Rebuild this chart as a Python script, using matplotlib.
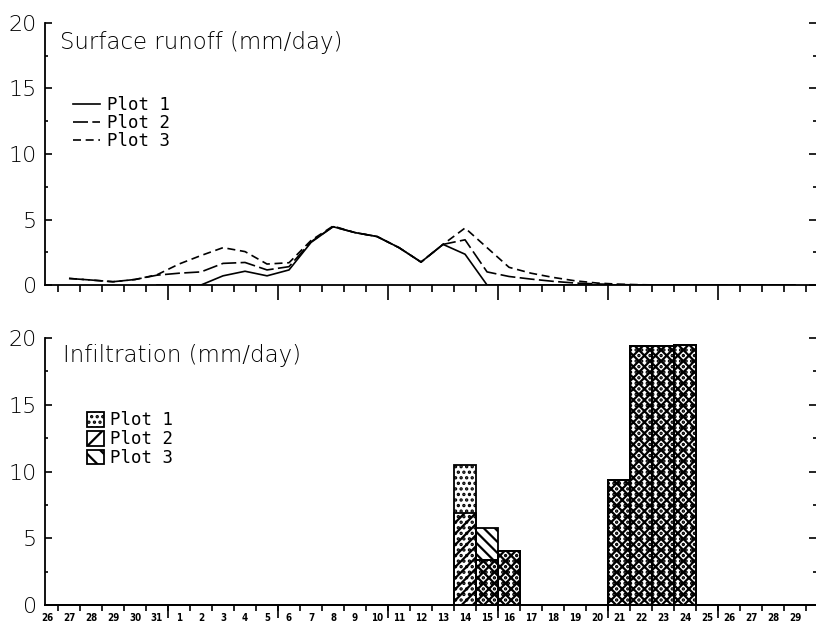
import numpy as np
import matplotlib
matplotlib.use("Agg")
import matplotlib.pyplot as plt
from matplotlib.patches import Patch

# ---------------- data ----------------
day_labels = ["26", "27", "28", "29", "30", "31",
              "1", "2", "3", "4", "5", "6", "7", "8", "9", "10",
              "11", "12", "13", "14", "15", "16", "17", "18", "19", "20",
              "21", "22", "23", "24", "25", "26", "27", "28", "29"]

nan = np.nan
runoff_plot1 = [nan, nan, nan, nan, nan, 0.0,
                0.0, 0.0, 0.7, 1.05, 0.7, 1.15, 3.25, 4.45, 4.0, 3.7,
                2.85, 1.75, 3.1, 2.35, 0.0, 0.0, 0.0, 0.0, 0.0, 0.0,
                0.0, 0.0, 0.0, 0.0, 0.0, 0.0, 0.0, 0.0, 0.0]
runoff_plot2 = [nan, 0.5, 0.38, 0.25, 0.42, 0.75,
                0.9, 1.0, 1.65, 1.72, 1.15, 1.4, 3.3, 4.45, 4.0, 3.7,
                2.85, 1.75, 3.1, 3.45, 1.0, 0.65, 0.45, 0.28, 0.15, 0.08,
                0.03, 0.0, 0.0, 0.0, 0.0, 0.0, 0.0, 0.0, 0.0]
runoff_plot3 = [nan, 0.5, 0.38, 0.25, 0.42, 0.78,
                1.6, 2.25, 2.85, 2.55, 1.6, 1.7, 3.4, 4.5, 4.0, 3.7,
                2.85, 1.75, 3.1, 4.35, 2.85, 1.35, 0.9, 0.58, 0.32, 0.15,
                0.06, 0.02, 0.0, 0.0, 0.0, 0.0, 0.0, 0.0, 0.0]

infil_plot1 = [0, 0, 0, 0, 0, 0,
               0, 0, 0, 0, 0, 0, 0, 0, 0, 0,
               0, 0, 0, 10.5, 3.4, 4.05, 0, 0, 0, 0,
               9.4, 19.4, 19.4, 19.45, 0, 0, 0, 0, 0]
infil_plot2 = [0, 0, 0, 0, 0, 0,
               0, 0, 0, 0, 0, 0, 0, 0, 0, 0,
               0, 0, 0, 6.9, 3.4, 4.05, 0, 0, 0, 0,
               9.4, 19.4, 19.4, 19.45, 0, 0, 0, 0, 0]
infil_plot3 = [0, 0, 0, 0, 0, 0,
               0, 0, 0, 0, 0, 0, 0, 0, 0, 0,
               0, 0, 0, 0, 5.8, 4.05, 0, 0, 0, 0,
               9.4, 19.4, 19.4, 19.45, 0, 0, 0, 0, 0]

series_labels = ["Plot 1", "Plot 2", "Plot 3"]
y_major = [0, 5, 10, 15, 20]
y_minor = [2.5, 7.5, 12.5, 17.5]
long_ticks = [6, 11, 16, 21, 26, 31]

# ---------------- style ----------------
plt.rcParams["font.family"] = ["DejaVu Sans"]
plt.rcParams["hatch.linewidth"] = 1.6
plt.rcParams["hatch.color"] = "black"

W, H = 816, 629
fig = plt.figure(figsize=(W / 100, H / 100), dpi=100)
ax1 = fig.add_axes([45 / W, 344 / H, 771 / W, 262 / H])
ax2 = fig.add_axes([45 / W, 24 / H, 771 / W, 267 / H])

n = len(day_labels)
xc = np.arange(n) + 0.5
xlim = (0.41, 35.45)

for ax in (ax1, ax2):
    ax.set_xlim(*xlim)
    ax.set_ylim(0, 20)
    ax.spines["top"].set_visible(False)
    ax.spines["right"].set_visible(False)
    ax.spines["left"].set_linewidth(1.3)
    ax.spines["bottom"].set_linewidth(1.3)
    ax.set_yticks(y_major)
    ax.set_yticks(y_minor, minor=True)
    ax.tick_params(axis="y", which="both", direction="in", left=True, right=True,
                   width=1.2, labelsize=16, pad=6)
    ax.tick_params(axis="y", which="major", length=5)
    ax.tick_params(axis="y", which="minor", length=2.5)
    for t in ax.get_yticklabels():
        t.set_fontweight("light")

# ---- top panel: surface runoff ----
lw = 1.2
ax1.plot(xc, runoff_plot1, color="black", lw=lw, ls="-", label=series_labels[0])
ax1.plot(xc, runoff_plot2, color="black", lw=lw, ls=(0, (9, 2.6)), label=series_labels[1])
ax1.plot(xc, runoff_plot3, color="black", lw=lw, ls=(0, (4.8, 2.8)), label=series_labels[2])

ax1.set_xticks(long_ticks)
ax1.set_xticks(np.arange(1, 36), minor=True)
ax1.tick_params(axis="x", which="major", direction="out", length=10.5, width=1.2,
                labelbottom=False)
ax1.tick_params(axis="x", which="minor", direction="out", length=5, width=1.2)

ax1.text(0.0195, 0.927, "Surface runoff (mm/day)", transform=ax1.transAxes,
         fontsize=16.5, va="center", ha="left", fontweight="light")

leg1 = ax1.legend(loc="upper left", bbox_to_anchor=(0.036, 0.72), frameon=False,
                  prop={"family": "DejaVu Sans Mono", "size": 12.5},
                  handlelength=1.55, handletextpad=0.45, labelspacing=0.0,
                  borderpad=0, borderaxespad=0)

# ---- bottom panel: infiltration ----
ax2.bar(xc, infil_plot1, width=1.0, facecolor="white", edgecolor="black",
        linewidth=1.3, hatch="...", label=series_labels[0])
ax2.bar(xc, infil_plot2, width=1.0, facecolor="none", edgecolor="black",
        linewidth=1.3, hatch="///", label=series_labels[1])
ax2.bar(xc, infil_plot3, width=1.0, facecolor="none", edgecolor="black",
        linewidth=1.3, hatch="\\\\\\", label=series_labels[2])

ax2.set_xticks(xc)
ax2.set_xticklabels(day_labels)
ax2.set_xticks(np.arange(1, 36), minor=True)
ax2.tick_params(axis="x", which="major", length=0, pad=6, labelsize=7)
ax2.tick_params(axis="x", which="minor", direction="out", length=4.5, width=1.2)
for t in ax2.get_xticklabels():
    t.set_fontweight("bold")
    t.set_fontstretch("condensed")

sec = ax2.secondary_xaxis("bottom")
sec.set_xticks(long_ticks)
sec.tick_params(axis="x", direction="out", length=9, width=1.2, labelbottom=False)
sec.spines["bottom"].set_linewidth(1.3)

ax2.text(0.023, 0.933, "Infiltration (mm/day)", transform=ax2.transAxes,
         fontsize=16.5, va="center", ha="left", fontweight="light")

handles2 = [Patch(facecolor="white", edgecolor="black", hatch="...", linewidth=1.3),
            Patch(facecolor="white", edgecolor="black", hatch="//", linewidth=1.3),
            Patch(facecolor="white", edgecolor="black", hatch="\\\\", linewidth=1.3)]
leg2 = ax2.legend(handles2, series_labels, loc="upper left",
                  bbox_to_anchor=(0.0545, 0.725), frameon=False,
                  prop={"family": "DejaVu Sans Mono", "size": 12.5},
                  handlelength=0.98, handleheight=0.9, handletextpad=0.35,
                  labelspacing=0.05, borderpad=0, borderaxespad=0)

fig.savefig("out.png", dpi=100)
